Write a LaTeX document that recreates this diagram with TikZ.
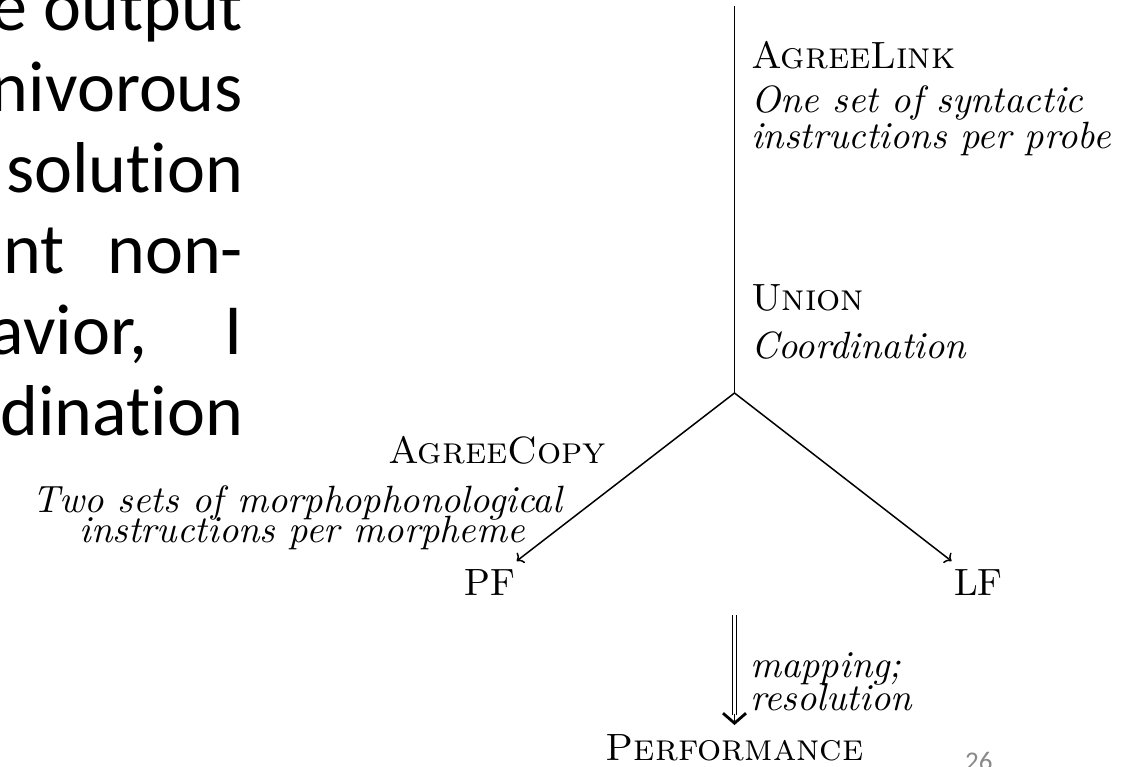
\documentclass[tikz,border=0pt]{standalone}
\usepackage{fontspec}
\usepackage{graphicx}
\usetikzlibrary{arrows.meta}
\newfontfamily\slidefont{Carlito}[Ligatures={NoCommon}]
\definecolor{pagegray}{HTML}{898989}
% 10pt Latin Modern text, enlarged as a whole
\newcommand{\scaledtext}[1]{\scalebox{3.8}{\fontsize{10}{12}\selectfont #1}}
\tikzset{
  txt/.style={inner sep=0pt, outer sep=0pt},
  slide/.style={inner sep=0pt, outer sep=0pt, font=\slidefont\fontsize{72}{86}\selectfont},
  term/.style={inner sep=8pt, outer sep=0pt},
  edge/.style={line width=1.5pt, -{To[length=6pt,width=13pt]}},
  stem/.style={line width=1.5pt},
  mapshaft/.style={line width=1.3pt, double distance=3pt, shorten >=10pt},
  maphead/.style={line width=1.3pt, shorten <=99pt,
    -{Straight Barb[length=10pt,width=23pt,line width=2.8pt]}},
}
\begin{document}
\begin{tikzpicture}[x=1pt,y=-1pt]
\useasboundingbox (0,0) rectangle (1140,766);

% slide body text, cut at the left edge
\node[slide, anchor=base east] (s1)  at (243,30)  {e output};
\node[slide, anchor=base east] (s2)  at (243,111) {nivorous};
\node[slide, anchor=base east] (s3)  at (243,192) {solution};
\node[slide, anchor=base east] (s4a) at (65,273)  {nt};
\node[slide, anchor=base east] (s4b) at (243,273) {non-};
\node[slide, anchor=base east] (s5a) at (147,354) {avior,};
\node[slide, anchor=base east] (s5b) at (243,354) {I};
\node[slide, anchor=base east] (s6)  at (243,435) {dination};

% stem of the model
\coordinate (top)  at (734.5,6);
\coordinate (junc) at (734.5,393);

\node[txt, anchor=base west] (agreelink) at (751,68)  {\scaledtext{\textsc{AgreeLink}}};
\node[txt, anchor=base west] (linkA)     at (751,112) {\scaledtext{\itshape One set of syntactic}};
\node[txt, anchor=base west] (linkB)     at (751,148) {\scaledtext{\itshape instructions per probe}};
\node[txt, anchor=base west] (union)     at (751,310) {\scaledtext{\textsc{Union}}};
\node[txt, anchor=base west] (coord)     at (751,358) {\scaledtext{\itshape Coordination}};

% left branch label
\node[txt, anchor=base] (agreecopy) at (497,463) {\scaledtext{\textsc{AgreeCopy}}};
\node[txt, anchor=base east] (copyA) at (562,512) {\scaledtext{\itshape Two sets of morphophonological}};
\node[txt, anchor=base east] (copyB) at (525,542) {\scaledtext{\itshape instructions per morpheme}};

% interfaces
\node[term, anchor=base] (PF) at (489.5,595) {\scaledtext{PF}};
\node[term, anchor=base] (LF) at (978.5,595) {\scaledtext{LF}};

% performance
\coordinate (mapstart) at (734.5,615);
\node[inner sep=9pt, outer sep=0pt, anchor=base] (perf) at (734.5,760) {\scaledtext{\textsc{Performance}}};
\node[txt, anchor=base west] (mapA) at (750,677) {\scaledtext{\itshape mapping;}};
\node[txt, anchor=base west] (mapB) at (750,710) {\scaledtext{\itshape resolution}};

% page number
\node[inner sep=0pt, anchor=base west, font=\slidefont\fontsize{27}{32}\selectfont, text=pagegray] (pagenum) at (965,770) {26};

% connectors
\draw[stem] (top) -- (junc);
\draw[edge] (junc) -- (PF);
\draw[edge] (junc) -- (LF);
\draw[mapshaft] (mapstart) -- (perf);
\draw[maphead] (mapstart) -- (perf);
\end{tikzpicture}
\end{document}
